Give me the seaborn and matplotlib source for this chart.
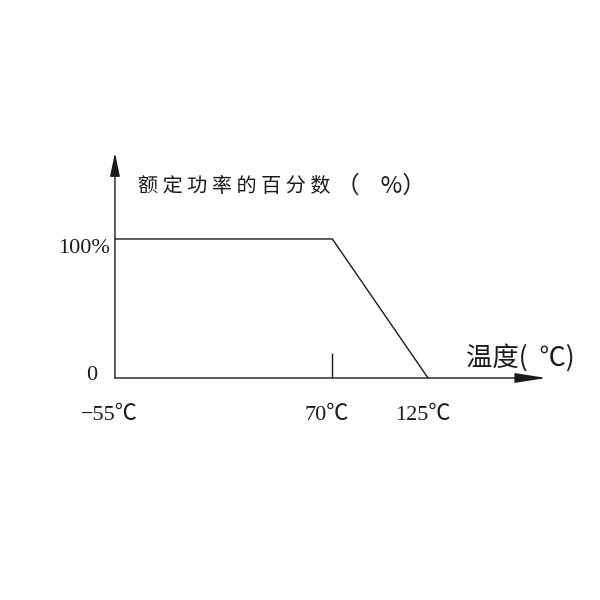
import matplotlib
matplotlib.use("Agg")
import matplotlib.pyplot as plt
import seaborn as sns
import pandas as pd

# Derating curve: rated power (%) vs ambient temperature (°C)
temps = [-55, 70, 125]
power_pct = [100, 100, 0]
tick_temps = [-55, 70, 125]
tick_labels = ["−55℃", "70℃", "125℃"]
y_labels = ["0", "100%"]
y_values = [0, 100]
title_text = "额 定 功 率 的 百 分 数"
title_unit = "（    %）"
xlabel_text = "温度(  ℃)"

sns.set_theme(style="white")
plt.rcParams["font.family"] = ["Noto Sans CJK SC", "DejaVu Sans"]
num_font = ["Liberation Serif", "Noto Sans CJK SC", "DejaVu Sans"]
ink = "#1a1a1a"

fig = plt.figure(figsize=(6, 6), dpi=100)
ax = fig.add_axes([0, 0, 1, 1])
ax.set_xlim(-121.1, 223.9)
ax.set_ylim(-159.7, 271.9)
ax.axis("off")

df = pd.DataFrame({"temp": temps, "power": power_pct})
sns.lineplot(data=df, x="temp", y="power", color=ink, linewidth=1.0,
             sort=False, ax=ax)

# axes with arrow heads
x0 = min(temps)
x_end = max(temps) + 68
y_end = max(power_pct) + 62
ax.annotate("", xy=(x_end, 0), xytext=(x0, 0),
            arrowprops=dict(arrowstyle="-|>,head_length=1.6,head_width=0.25",
                            mutation_scale=12, color=ink, lw=1.0,
                            shrinkA=0, shrinkB=0))
ax.annotate("", xy=(x0, y_end), xytext=(x0, 0),
            arrowprops=dict(arrowstyle="-|>,head_length=1.2,head_width=0.25",
                            mutation_scale=12, color=ink, lw=1.0,
                            shrinkA=0, shrinkB=0))

# small mark at the knee temperature
ax.vlines(temps[1], 0, 18, color=ink, linewidth=1.0)

# tick labels
for t, lab in zip(tick_temps, tick_labels):
    ax.text(t - 3, -27, lab, ha="center", va="center", fontsize=16,
            color=ink, family=num_font)
ax.text(x0 - 3, y_values[1] - 7, y_labels[1], ha="right", va="center",
        fontsize=16, color=ink, family=num_font)
ax.text(x0 - 10, y_values[0] + 2, y_labels[0], ha="right", va="center",
        fontsize=16, color=ink, family=num_font)

ax.text(x0 + 13, 138, title_text, ha="left", va="center", fontsize=14.5,
        color=ink)
ax.text(x0 + 127, 138, title_unit, ha="left", va="center", fontsize=17,
        color=ink)
ax.text(x0 + 202, 14.5, xlabel_text, ha="left", va="center", fontsize=19,
        color=ink)

plt.savefig("out.png", dpi=100)
